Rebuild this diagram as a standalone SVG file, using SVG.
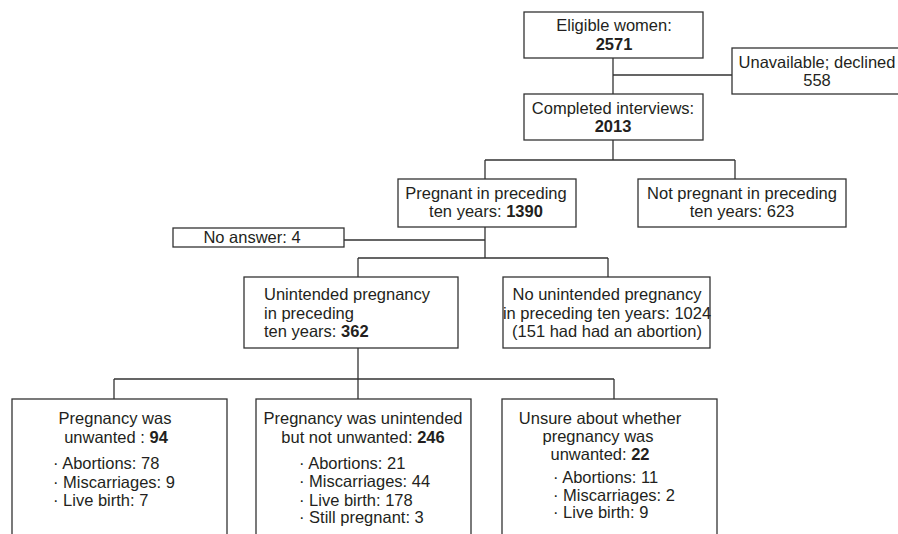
<svg xmlns="http://www.w3.org/2000/svg" width="898" height="534" viewBox="0 0 898 534">
<style>
.box{fill:#fff;stroke:#333;stroke-width:1.3}
.ln{stroke:#333;stroke-width:1.3;fill:none}
text{font-family:"Liberation Sans",Arial,sans-serif;font-size:16.5px;fill:#231f20}
.m{text-anchor:middle}
.b{font-weight:bold}
</style>
<rect width="898" height="534" fill="#fff"/>
<g id="connectors">
<path class="ln" d="M613,58V94M613,75H732M613,140V160M485,160H735M485,160V179M735,160V179M485,227V258M344,240H485M358,258H608M358,258V277M608,258V277M358,348V379M114,379H614M114,379V399M358,379V399M614,379V399"/>
</g>
<g id="eligible">
<rect class="box" x="524" y="12" width="179" height="46"/>
<text class="m" x="614" y="31">Eligible women:</text>
<text class="m b" x="614" y="50">2571</text>
</g>
<g id="unavailable">
<rect class="box" x="732" y="48" width="180" height="46"/>
<text class="m" x="817" y="68">Unavailable; declined</text>
<text class="m" x="817" y="86">558</text>
</g>
<g id="completed">
<rect class="box" x="524" y="94" width="179" height="46"/>
<text class="m" x="613" y="114">Completed interviews:</text>
<text class="m b" x="613" y="132">2013</text>
</g>
<g id="pregnant">
<rect class="box" x="398" y="179" width="178" height="48"/>
<text class="m" x="486" y="199">Pregnant in preceding</text>
<text class="m" x="486" y="217">ten years: <tspan class="b">1390</tspan></text>
</g>
<g id="notpregnant">
<rect class="box" x="638" y="179" width="208" height="48"/>
<text class="m" x="742" y="199">Not pregnant in preceding</text>
<text class="m" x="742" y="217">ten years: 623</text>
</g>
<g id="noanswer">
<rect class="box" x="173" y="228" width="171" height="19"/>
<text class="m" x="252" y="243">No answer: 4</text>
</g>
<g id="unintended">
<rect class="box" x="244" y="277" width="214" height="71"/>
<text x="264" y="300">Unintended pregnancy</text>
<text x="264" y="319">in preceding</text>
<text x="264" y="337">ten years: <tspan class="b">362</tspan></text>
</g>
<g id="nounintended">
<rect class="box" x="503" y="277" width="207" height="71"/>
<text class="m" x="607" y="300">No unintended pregnancy</text>
<text class="m" x="607" y="319">in preceding ten years: 1024</text>
<text class="m" x="607" y="337">(151 had had an abortion)</text>
</g>
<g id="unwanted">
<rect class="box" x="12" y="399" width="215" height="145"/>
<text class="m" x="115" y="424">Pregnancy was</text>
<text class="m" x="116" y="443">unwanted : <tspan class="b">94</tspan></text>
<text x="53" y="469">· Abortions: 78</text>
<text x="53" y="488">· Miscarriages: 9</text>
<text x="53" y="506">· Live birth: 7</text>
</g>
<g id="notunwanted">
<rect class="box" x="256" y="399" width="215" height="145"/>
<text class="m" x="363" y="424">Pregnancy was unintended</text>
<text class="m" x="363" y="443">but not unwanted: <tspan class="b">246</tspan></text>
<text x="299" y="469">· Abortions: 21</text>
<text x="299" y="487">· Miscarriages: 44</text>
<text x="299" y="506">· Live birth: 178</text>
<text x="299" y="523">· Still pregnant: 3</text>
</g>
<g id="unsure">
<rect class="box" x="502" y="399" width="215" height="145"/>
<text class="m" x="600" y="424">Unsure about whether</text>
<text class="m" x="598" y="442">pregnancy was</text>
<text class="m" x="600" y="460">unwanted: <tspan class="b">22</tspan></text>
<text x="553" y="483">· Abortions: 11</text>
<text x="553" y="501">· Miscarriages: 2</text>
<text x="553" y="518">· Live birth: 9</text>
</g>
</svg>
